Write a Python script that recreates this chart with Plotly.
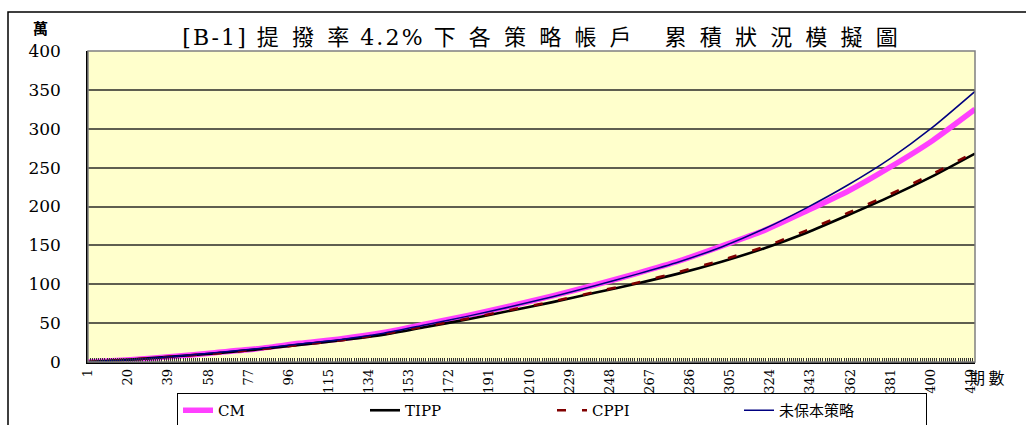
import plotly.graph_objects as go

# Simulated account balances (unit: 萬) at selected periods
periods = [1, 21, 41, 61, 81, 101, 121, 141, 161, 181, 201, 221,
           241, 261, 281, 301, 321, 341, 361, 381, 401, 421]
cm = [0, 3, 7, 12, 17, 24, 30, 38, 49, 60, 72, 85,
      99, 114, 130, 149, 169, 194, 220, 251, 285, 325]
tipp = [0, 3, 7, 11, 16, 22, 28, 35, 45, 55, 66, 77,
        89, 101, 114, 129, 146, 166, 189, 213, 239, 268]
cppi = [0, 3, 7, 11, 16, 22, 28, 36, 46, 56, 67, 78,
        90, 102, 116, 131, 148, 169, 192, 216, 242, 270]
unprotected = [0, 3, 7, 12, 17, 23, 29, 37, 48, 59, 71, 84,
               98, 113, 129, 148, 171, 198, 228, 262, 302, 348]

x_tick_labels = [1, 20, 39, 58, 77, 96, 115, 134, 153, 172, 191, 210,
                 229, 248, 267, 286, 305, 324, 343, 362, 381, 400, 419]
y_tick_labels = [0, 50, 100, 150, 200, 250, 300, 350, 400]

series_names = ["CM", "TIPP", "CPPI", "未保本策略"]

SERIF = "DejaVu Serif, Noto Sans CJK TC, serif"
CJK = "Noto Sans CJK TC, sans-serif"

title_parts = ["[B-1]", "提撥率", "4.2%", "下各策略帳戶", " ", "累積狀況模擬圖"]


def spread(part):
    # latin runs get hair spaces, CJK runs get en spaces
    if part == " ":
        return "\u2002"
    if part.isascii():
        return "\u200a".join(part)
    return "\u2002\u200a".join(part)


title_spaced = "\u2002".join(spread(p) for p in title_parts)

fig = go.Figure()
fig.add_trace(go.Scatter(x=periods, y=cm, name=series_names[0], mode="lines",
                         line=dict(color="#FF40FF", width=5.5, shape="spline", smoothing=0.6)))
fig.add_trace(go.Scatter(x=periods, y=tipp, name=series_names[1], mode="lines",
                         line=dict(color="#000000", width=2.6, shape="spline", smoothing=0.6)))
fig.add_trace(go.Scatter(x=periods, y=cppi, name=series_names[2], mode="lines",
                         line=dict(color="#800000", width=2.6, dash="9px,16px",
                                   shape="spline", smoothing=0.6)))
fig.add_trace(go.Scatter(x=periods, y=unprotected, name=series_names[3], mode="lines",
                         line=dict(color="#000080", width=1.5, shape="spline", smoothing=0.6)))

W, H = 1026, 425
L, R, T, B = 88, 51, 51, 63
pw, ph = W - L - R, H - T - B


def px_x(px):
    return (px - L) / pw


def px_y(py):
    return (H - B - py) / ph


fig.update_layout(
    width=W, height=H, autosize=False,
    margin=dict(l=L, r=R, t=T, b=B, pad=0, autoexpand=False),
    paper_bgcolor="white",
    plot_bgcolor="#FFFFCC",
    title=dict(text=title_spaced, x=540 / W, y=1 - 37 / H, xref="container", yref="container",
               xanchor="center", yanchor="middle",
               font=dict(family=SERIF, size=22, color="black")),
    showlegend=True,
    legend=dict(orientation="h", x=px_x(177), y=px_y(393), xanchor="left", yanchor="top",
                bordercolor="black", borderwidth=1, bgcolor="white",
                entrywidth=142, entrywidthmode="pixels", traceorder="normal",
                font=dict(family=SERIF, size=15, color="black")),
    xaxis=dict(range=[1, 421], tickmode="array", tickvals=x_tick_labels,
               ticktext=[str(v) for v in x_tick_labels], tickangle=-90,
               tickfont=dict(family=SERIF, size=13, color="black"),
               showgrid=False, zeroline=False, automargin=False,
               showline=True, linecolor="black", linewidth=1.5,
               ticks="inside", ticklen=4, tickcolor="#333333", tickwidth=1,
               minor=dict(dtick=1, tick0=1, ticks="inside", ticklen=4,
                          tickcolor="#333333", tickwidth=1, showgrid=False)),
    yaxis=dict(range=[0, 400], tickmode="array", tickvals=y_tick_labels,
               tickfont=dict(family=SERIF, size=17, color="black"),
               showgrid=True, gridcolor="#5f5f50", gridwidth=1.5, automargin=False,
               zeroline=False, showline=True, linecolor="black", linewidth=1.5,
               ticks="", ticklabelstandoff=22),
    shapes=[
        # plot area frame
        dict(type="rect", xref="paper", yref="paper", x0=0, x1=1, y0=0, y1=1,
             line=dict(color="#808080", width=1.5), layer="above"),
        # chart frame
        dict(type="rect", xref="paper", yref="paper", x0=px_x(8), x1=px_x(1040),
             y0=px_y(440), y1=px_y(12), line=dict(color="black", width=1.5)),
    ],
    annotations=[
        dict(text="<b>萬</b>", xref="paper", yref="paper", x=px_x(40), y=px_y(27),
             showarrow=False, xanchor="center", yanchor="middle",
             font=dict(family=CJK, size=15, color="black")),
        dict(text="期 數", xref="paper", yref="paper", x=px_x(967), y=px_y(377),
             showarrow=False, xanchor="left", yanchor="middle",
             font=dict(family=CJK, size=16, color="black")),
    ],
)

fig.write_html("out.html")
